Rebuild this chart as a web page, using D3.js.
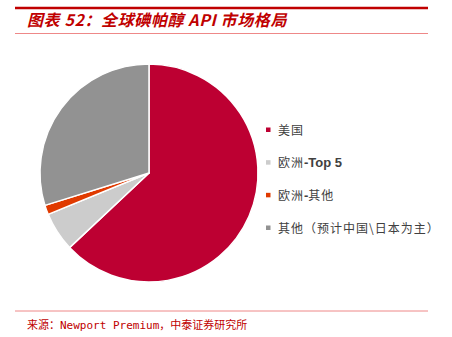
<!DOCTYPE html>
<html>
<head>
<meta charset="utf-8">
<script src="https://cdn.jsdelivr.net/npm/d3@7"></script>
<style>
  html, body { margin: 0; padding: 0; background: #fff; }
  svg { display: block; }
</style>
</head>
<body>
<svg id="chart" width="452" height="337"></svg>
<script>
// Market share of iopamidol API by region (%)
const categories = ["美国", "欧洲-Top 5", "欧洲-其他", "其他（预计中国\\日本为主）"];
const shares = [63, 5.8, 1.4, 29.8];
const colors = ["#bd0032", "#cccccc", "#e03a00", "#929292"];

const svg = d3.select("#chart");

// Header rules and title
svg.append("line").attr("x1", 15).attr("x2", 428).attr("y1", 8).attr("y2", 8)
  .attr("stroke", "#c00000").attr("stroke-width", 2.5);
svg.append("line").attr("x1", 15).attr("x2", 428).attr("y1", 33.5).attr("y2", 33.5)
  .attr("stroke", "#ee8888").attr("stroke-width", 1);
svg.append("text")
  .attr("x", 27).attr("y", 26)
  .attr("font-family", "'Noto Sans CJK SC', sans-serif")
  .attr("font-size", 16).attr("font-weight", "bold").attr("font-style", "italic")
  .attr("letter-spacing", 0.6)
  .attr("fill", "#c00000")
  .text("图表 52：全球碘帕醇 API 市场格局");

// Pie
const cx = 149, cy = 173, r = 109;
const pie = d3.pie().sort(null).value(d => d.v);
const arc = d3.arc().innerRadius(0).outerRadius(r);
const data = categories.map((c, i) => ({ c, v: shares[i], color: colors[i] }));

svg.append("g").attr("transform", `translate(${cx},${cy})`)
  .selectAll("path").data(pie(data)).join("path")
  .attr("d", arc)
  .attr("fill", d => d.data.color)
  .attr("stroke", "#fff").attr("stroke-width", 1.5)
  .attr("stroke-linejoin", "round");

// Legend
const legendY = d3.scalePoint().domain(categories).range([130, 228]);
const lg = svg.append("g");
const rows = lg.selectAll("g").data(data).join("g")
  .attr("transform", d => `translate(266,${legendY(d.c)})`);
rows.append("rect").attr("x", 0).attr("y", -2.5).attr("width", 4.5).attr("height", 4.5)
  .attr("fill", d => d.color);
rows.each(function (d) {
  const t = d3.select(this).append("text")
    .attr("x", 12).attr("y", 4.5)
    .attr("font-size", 12).attr("fill", "#404040")
    .attr("letter-spacing", 1)
    .attr("font-family", "'Noto Sans CJK SC', sans-serif");
  if (d.c.includes("-")) {
    const cut = d.c.indexOf("-");
    const head = d.c.slice(0, cut), tail = d.c.slice(cut);
    const bold = tail.replace(/[^\x00-\x7f].*$/, "");
    const rest = tail.slice(bold.length);
    t.append("tspan").text(head);
    t.append("tspan").attr("font-family", "'Liberation Sans', Arial, sans-serif")
      .attr("font-weight", "bold").attr("font-size", 13).attr("letter-spacing", 0).text(bold);
    if (rest) t.append("tspan").text(rest);
  } else {
    t.text(d.c);
  }
});

// Footer
svg.append("line").attr("x1", 15).attr("x2", 428).attr("y1", 311).attr("y2", 311)
  .attr("stroke", "#ee8888").attr("stroke-width", 1);
svg.append("text")
  .attr("x", 27).attr("y", 329)
  .attr("font-family", "'DejaVu Sans Mono', 'Noto Sans CJK SC', monospace")
  .attr("font-size", 11).attr("fill", "#c00000")
  .text("来源：Newport Premium，中泰证券研究所");
</script>
</body>
</html>
